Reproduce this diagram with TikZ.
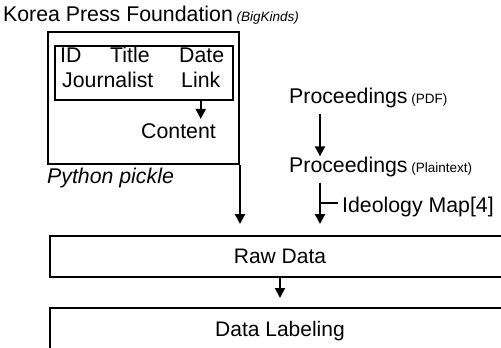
\documentclass[tikz,border=0pt]{standalone}
\usepackage{fontspec}
\setmainfont{Liberation Sans}
\usetikzlibrary{arrows.meta}
\newcommand{\subtag}[1]{{\fontsize{13.5}{15}\selectfont #1}}
\tikzset{
  box/.style={draw, line width=2pt, inner sep=0pt, text depth=0pt, font=\fontsize{21}{24}\selectfont},
  txt/.style={inner sep=0pt, anchor=base west, font=\fontsize{21.3}{24}\selectfont},
  flow/.style={line width=2pt, -{Triangle[length=10pt,width=10pt]}}
}

\begin{document}
\begin{tikzpicture}[x=1pt, y=-1pt]
            \useasboundingbox (0,0) rectangle (501,348);
            \node[txt] (kpf) at (3,21) {Korea Press Foundation\subtag{ \itshape (BigKinds)}};

            \node[box, minimum width=191pt, minimum height=132pt, anchor=north west] (pickle) at (47,31) {};
            \node[box, minimum width=178pt, minimum height=54pt, anchor=north west] (meta) at (54,45) {};
            \node[txt] (id) at (60,62) {ID};
            \node[txt] (title) at (110,62) {Title};
            \node[txt] (date) at (179,62) {Date};
            \node[txt] (journalist) at (62,87) {Journalist};
            \node[txt] (link) at (181,87) {Link};
            \node[txt] (content) at (141,138) {Content};
            \node[txt, font=\fontsize{21.3}{24}\selectfont\itshape] (python) at (47,183) {Python pickle};
            \draw[flow, shorten >=4pt] (meta.south -| link) -- (content.north -| link);

            \node[txt] (pdf) at (289,103) {Proceedings\subtag{ (PDF)}};
            \node[txt] (plain) at (289,172) {Proceedings\subtag{ (Plaintext)}};
            \node[txt] (ideo) at (342,212) {Ideology Map[4]};
            \draw[flow, shorten <=6pt] ([xshift=31pt]pdf.south west) -- ([xshift=31pt]plain.north west);

            \node[box, minimum width=460pt, minimum height=41pt, anchor=north west] (raw) at (49,235) {Raw Data};
            \node[box, minimum width=460pt, minimum height=41pt, anchor=north west] (label) at (49,307) {Data Labeling};

            \draw[flow, shorten >=11pt] (pickle.south east) -- (pickle.south east |- raw.north);
            \draw[flow, shorten <=6pt, shorten >=11pt] ([xshift=31pt]plain.south west) -- ([xshift=31pt]plain.south west |- raw.north);
            \draw[line width=2pt, shorten >=4pt] ([xshift=31pt,yshift=3pt]plain.south west |- ideo.west) -- ([yshift=3pt]ideo.west);
            \draw[flow, shorten >=9pt] (raw.south) -- (label.north);
        \end{tikzpicture}
\end{document}
